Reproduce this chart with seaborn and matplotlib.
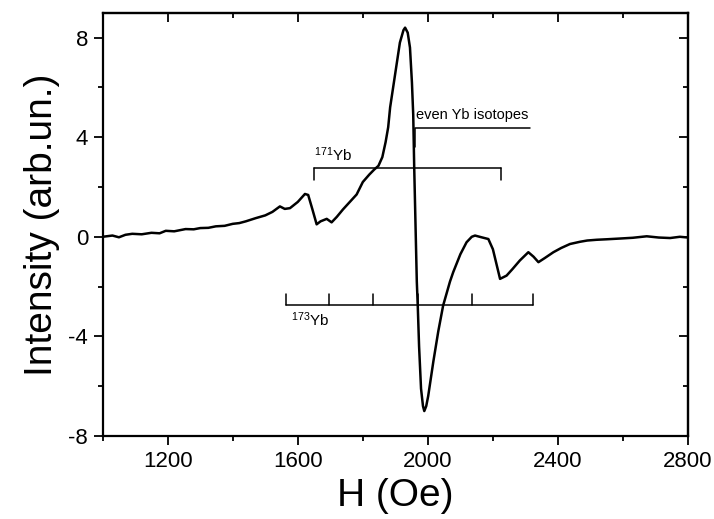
import numpy as np
import pandas as pd
import matplotlib
matplotlib.use("Agg")
import matplotlib.pyplot as plt
import seaborn as sns
from matplotlib.ticker import MultipleLocator

# ---- data ----
field = [1000, 1030, 1050, 1070, 1091, 1120, 1150, 1175, 1194, 1220, 1255, 1280, 1300, 1325,
         1348, 1375, 1400, 1420, 1440, 1471, 1500, 1522, 1545, 1560, 1576, 1600, 1622, 1632,
         1645, 1658, 1670, 1689, 1704, 1720, 1739, 1760, 1781, 1800, 1820, 1835, 1848, 1860,
         1870, 1878, 1884, 1899, 1914, 1925, 1930, 1938, 1945, 1951, 1955, 1958, 1962, 1966, 1969,
         1973, 1979, 1985, 1989, 1995, 2001, 2017, 2032, 2047, 2068, 2078, 2100, 2119, 2135,
         2145, 2165, 2186, 2200, 2222, 2242, 2260, 2283, 2309, 2325, 2340, 2360, 2386, 2410,
         2437, 2468, 2490, 2519, 2550, 2591, 2630, 2673, 2710, 2745, 2775, 2800]
intensity = [0.0, 0.05, -0.02, 0.08, 0.12, 0.1, 0.16, 0.14, 0.24, 0.22, 0.31, 0.3, 0.35, 0.36,
             0.42, 0.44, 0.52, 0.55, 0.62, 0.75, 0.86, 1.0, 1.22, 1.12, 1.15, 1.4, 1.72, 1.68,
             1.1, 0.5, 0.62, 0.72, 0.58, 0.8, 1.1, 1.4, 1.7, 2.2, 2.5, 2.7, 2.85, 3.2,
             3.8, 4.4, 5.2, 6.5, 7.8, 8.3, 8.4, 8.2, 7.6, 6.2, 4.9, 2.8, 0.5, -1.8, -2.8,
             -4.4, -6.1, -6.8, -7.0, -6.8, -6.4, -5.0, -3.8, -2.76, -1.8, -1.42, -0.7, -0.22, 0.0,
             0.05, -0.02, -0.09, -0.5, -1.69, -1.56, -1.3, -0.95, -0.62, -0.8, -1.02, -0.85, -0.62, -0.45,
             -0.29, -0.2, -0.15, -0.12, -0.1, -0.07, -0.04, 0.02, -0.03, -0.05, 0.0, -0.03]

yb171_lines = [1650, 2224]
yb173_lines = [1564, 1697, 1830, 1969, 2137, 2322]
even_line = 1960

x_ticks = [1200, 1600, 2000, 2400, 2800]
y_ticks = [-8, -4, 0, 4, 8]

df = pd.DataFrame({"H": field, "I": intensity})

sns.set_style("ticks")
plt.rcParams["font.family"] = ["Liberation Sans", "DejaVu Sans"]
plt.rcParams["axes.unicode_minus"] = False
plt.rcParams["mathtext.fontset"] = "custom"
plt.rcParams["mathtext.rm"] = "Liberation Sans"
plt.rcParams["mathtext.it"] = "Liberation Sans:italic"
plt.rcParams["mathtext.bf"] = "Liberation Sans:bold"
plt.rcParams["text.color"] = "black"
plt.rcParams["axes.labelcolor"] = "black"
plt.rcParams["xtick.color"] = "black"
plt.rcParams["ytick.color"] = "black"

fig = plt.figure(figsize=(7.14, 5.19), dpi=100)
ax = fig.add_axes([0.1438, 0.16, 0.9636 - 0.1438, 0.9755 - 0.16])

sns.lineplot(data=df, x="H", y="I", ax=ax, color="black", linewidth=1.8,
             estimator=None, sort=False)

ax.set_xlim(1000, 2800)
ax.set_ylim(-8, 9)
ax.set_xticks(x_ticks)
ax.set_yticks(y_ticks)
ax.xaxis.set_minor_locator(MultipleLocator(200))
ax.yaxis.set_minor_locator(MultipleLocator(2))
ax.tick_params(which="major", direction="out", length=6.5, width=1.3, labelsize=16, pad=4,
               colors="black")
ax.tick_params(which="minor", direction="out", length=3.5, width=1.3, colors="black")
for s in ax.spines.values():
    s.set_linewidth(1.6)
    s.set_visible(True)
    s.set_color("black")

# mirrored axes with ticks pointing inward
secx = ax.secondary_xaxis("top")
secx.set_xticks(x_ticks)
secx.xaxis.set_minor_locator(MultipleLocator(200))
secx.tick_params(which="major", direction="in", length=6.5, width=1.3, labeltop=False)
secx.tick_params(which="minor", direction="in", length=3.5, width=1.3)
secx.spines["top"].set_linewidth(1.6)
secy = ax.secondary_yaxis("right")
secy.set_yticks(y_ticks)
secy.yaxis.set_minor_locator(MultipleLocator(2))
secy.tick_params(which="major", direction="in", length=6.5, width=1.3, labelright=False)
secy.tick_params(which="minor", direction="in", length=3.5, width=1.3)
secy.spines["right"].set_linewidth(1.6)

ax.set_xlabel("H (Oe)", fontsize=28, labelpad=5, color="black")
ax.set_ylabel("Intensity (arb.un.)", fontsize=28, labelpad=6, color="black")

lw = 1.1
# 171Yb bracket
y171 = 2.78
ax.plot(yb171_lines, [y171, y171], color="black", lw=lw)
for h in yb171_lines:
    ax.plot([h, h], [y171, 2.28], color="black", lw=lw)
ax.text(yb171_lines[0], y171 + 0.15, r"$^{171}$Yb", fontsize=11, ha="left", va="bottom")

# 173Yb bracket
y173 = -2.74
ax.plot([yb173_lines[0], yb173_lines[-1]], [y173, y173], color="black", lw=lw)
for h in yb173_lines:
    ax.plot([h, h], [y173, -2.28], color="black", lw=lw)
ax.text(yb173_lines[0] + 15, y173 - 0.2, r"$^{173}$Yb", fontsize=11, ha="left", va="top")

# even isotopes marker
ax.plot([even_line, even_line, 2314], [3.59, 4.38, 4.38], color="black", lw=lw)
ax.text(even_line + 5, 4.6, "even Yb isotopes", fontsize=10.5, ha="left", va="bottom")

fig.savefig("out.png", dpi=100)
